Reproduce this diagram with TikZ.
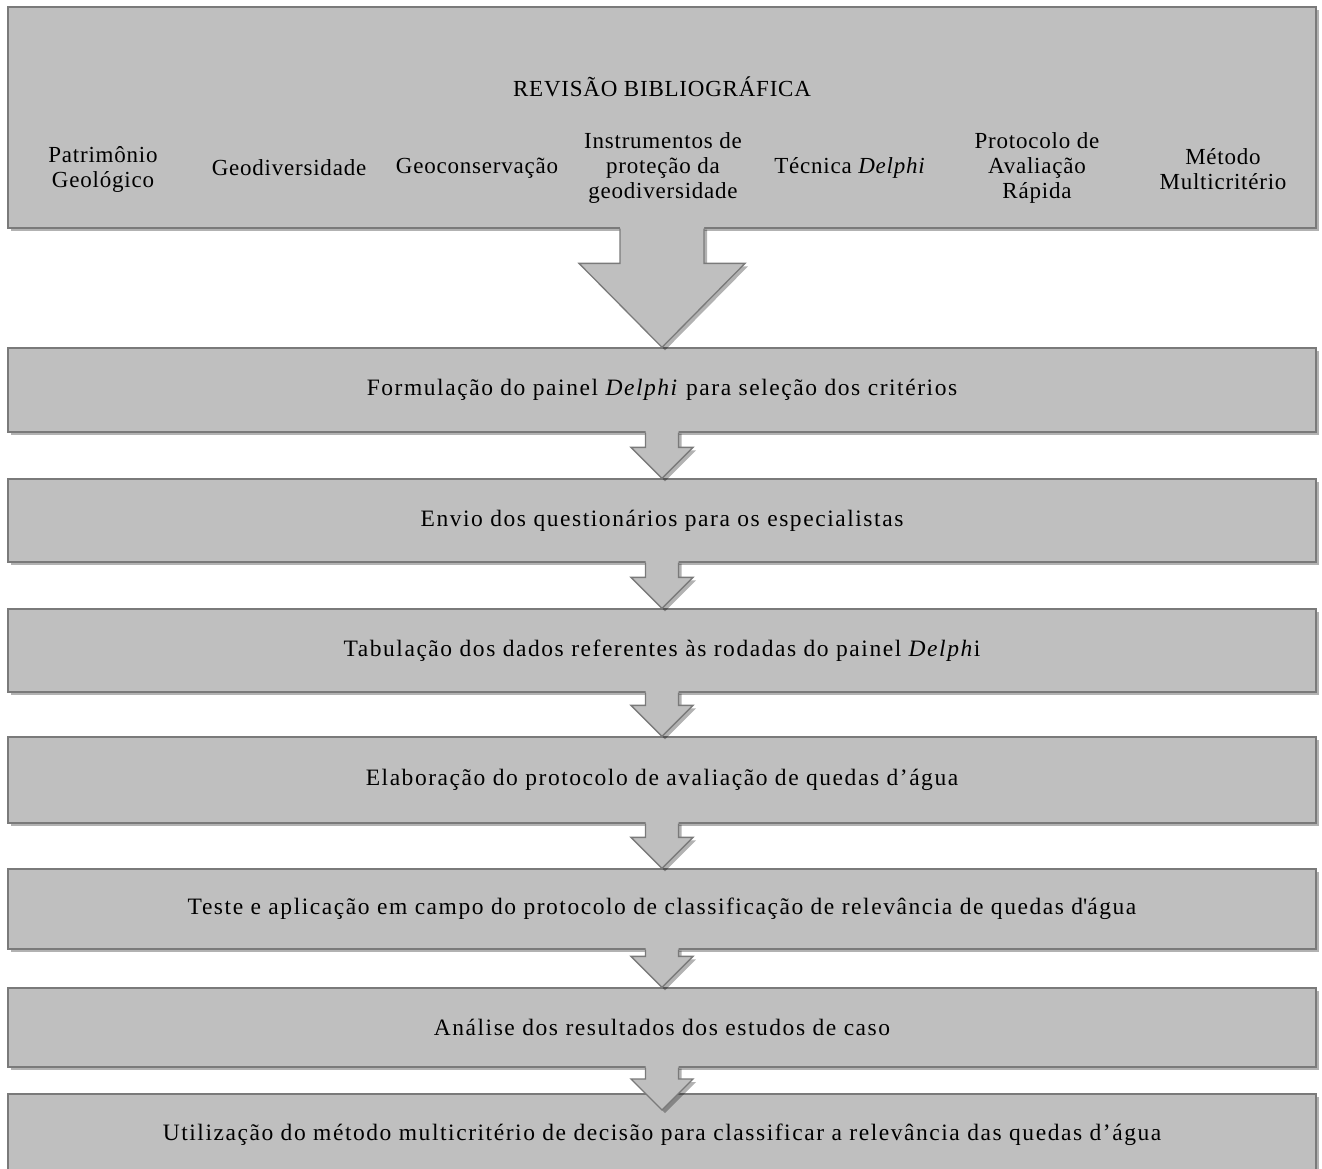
\documentclass[tikz,border=0pt]{standalone}
\usepackage{fontspec}
\setmainfont{Liberation Serif}
\definecolor{boxgray}{RGB}{191,191,191}
\definecolor{edgegray}{RGB}{122,122,122}
\usetikzlibrary{calc}
\usetikzlibrary{shadows}

\newcommand{\topicfont}{\fontsize{23}{25}\selectfont\addfontfeature{LetterSpace=3.4}}
\newcommand{\stepfont}{\fontsize{23.5}{25}\selectfont\addfontfeature{LetterSpace=6.6}}

\tikzset{
  softshadow/.style={drop shadow={shadow xshift=3pt, shadow yshift=-3pt, opacity=0.3, fill=black}},
  stepbox/.style={rectangle, fill=boxgray, draw=edgegray, line width=1.3pt,
    minimum width=1308pt, inner sep=0pt, font=\stepfont, softshadow},
  topic/.style={align=center, inner sep=0pt, font=\topicfont},
  edge/.style={draw=edgegray, line width=1.3pt, line join=miter},
}

% #1 from, #2 to, #3 stem half width, #4 head half width, #5 head length
\newcommand{\flowarrow}[5]{%
  \path (#2) ++(-#4,-#5) coordinate (hl) ++({2*#4},0) coordinate (hr);
  \path (#1) ++(-#3,0) coordinate (sl) ++({2*#3},0) coordinate (sr);
  \fill[boxgray, softshadow] ($(sl)+(0,-2)$) -- (sl |- hl) -- (hl) -- (#2) -- (hr) -- (sr |- hr) -- ($(sr)+(0,-2)$) -- cycle;
  \draw[edge] (sl) -- (sl |- hl) -- (hl) -- (#2) -- (hr) -- (sr |- hr) -- (sr);
}

\begin{document}
\begin{tikzpicture}[x=1pt, y=-1pt]
  \useasboundingbox (0,0) rectangle (1322,1169);

  % revisao bibliografica
  \node [stepbox, minimum height=221pt] (revisao) at (662,117.5) {};
  \node [topic] (titulo) at (662,87) {REVISÃO BIBLIOGRÁFICA};
  \node [topic] (patrimonio) at (103,169) {Patrimônio\\Geológico};
  \node [topic] (geodiv) at (289,168) {Geodiversidade};
  \node [topic] (geocons) at (477,168) {Geoconservação};
  \node [topic] (instrumentos) at (663,168) {Instrumentos de\\proteção da\\geodiversidade};
  \node [topic] (tecnica) at (850,168) {Técnica \textit{Delphi}};
  \node [topic] (protocolo) at (1037,168) {Protocolo de\\Avaliação\\Rápida};
  \node [topic] (metodo) at (1223,169) {Método\\Multicritério};

  % etapas
  \node [stepbox, minimum height=84pt] (formulacao) at (662,390) {Formulação do painel \textit{Delphi} para seleção dos critérios};
  \node [stepbox, minimum height=83pt] (envio) at (662,520.5) {Envio dos questionários para os especialistas};
  \node [stepbox, minimum height=83pt] (tabulacao) at (662,650.5) {Tabulação dos dados referentes às rodadas do painel \textit{Delph}i};
  \node [stepbox, minimum height=86pt] (elaboracao) at (662,780) {Elaboração do protocolo de avaliação de quedas d’água};
  \node [stepbox, minimum height=80pt] (teste) at (662,909) {Teste e aplicação em campo do protocolo de classificação de relevância de quedas d\textquotesingle água};
  \node [stepbox, minimum height=79pt] (analise) at (662,1027.5) {Análise dos resultados dos estudos de caso};
  \node [stepbox, minimum height=82pt] (utilizacao) at (662,1135) {Utilização do método multicritério de decisão para classificar a relevância das quedas d’água};
  \coordinate (fim) at (662,1110);

  % setas
  \flowarrow{revisao.south}{formulacao.north}{42}{83}{84}
  \flowarrow{formulacao.south}{envio.north}{16.5}{31}{31}
  \flowarrow{envio.south}{tabulacao.north}{16.5}{31}{31}
  \flowarrow{tabulacao.south}{elaboracao.north}{16.5}{31}{31}
  \flowarrow{elaboracao.south}{teste.north}{16.5}{31}{31}
  \flowarrow{teste.south}{analise.north}{16.5}{31}{31}
  \flowarrow{analise.south}{fim}{16.5}{31}{31}
\end{tikzpicture}
\end{document}
